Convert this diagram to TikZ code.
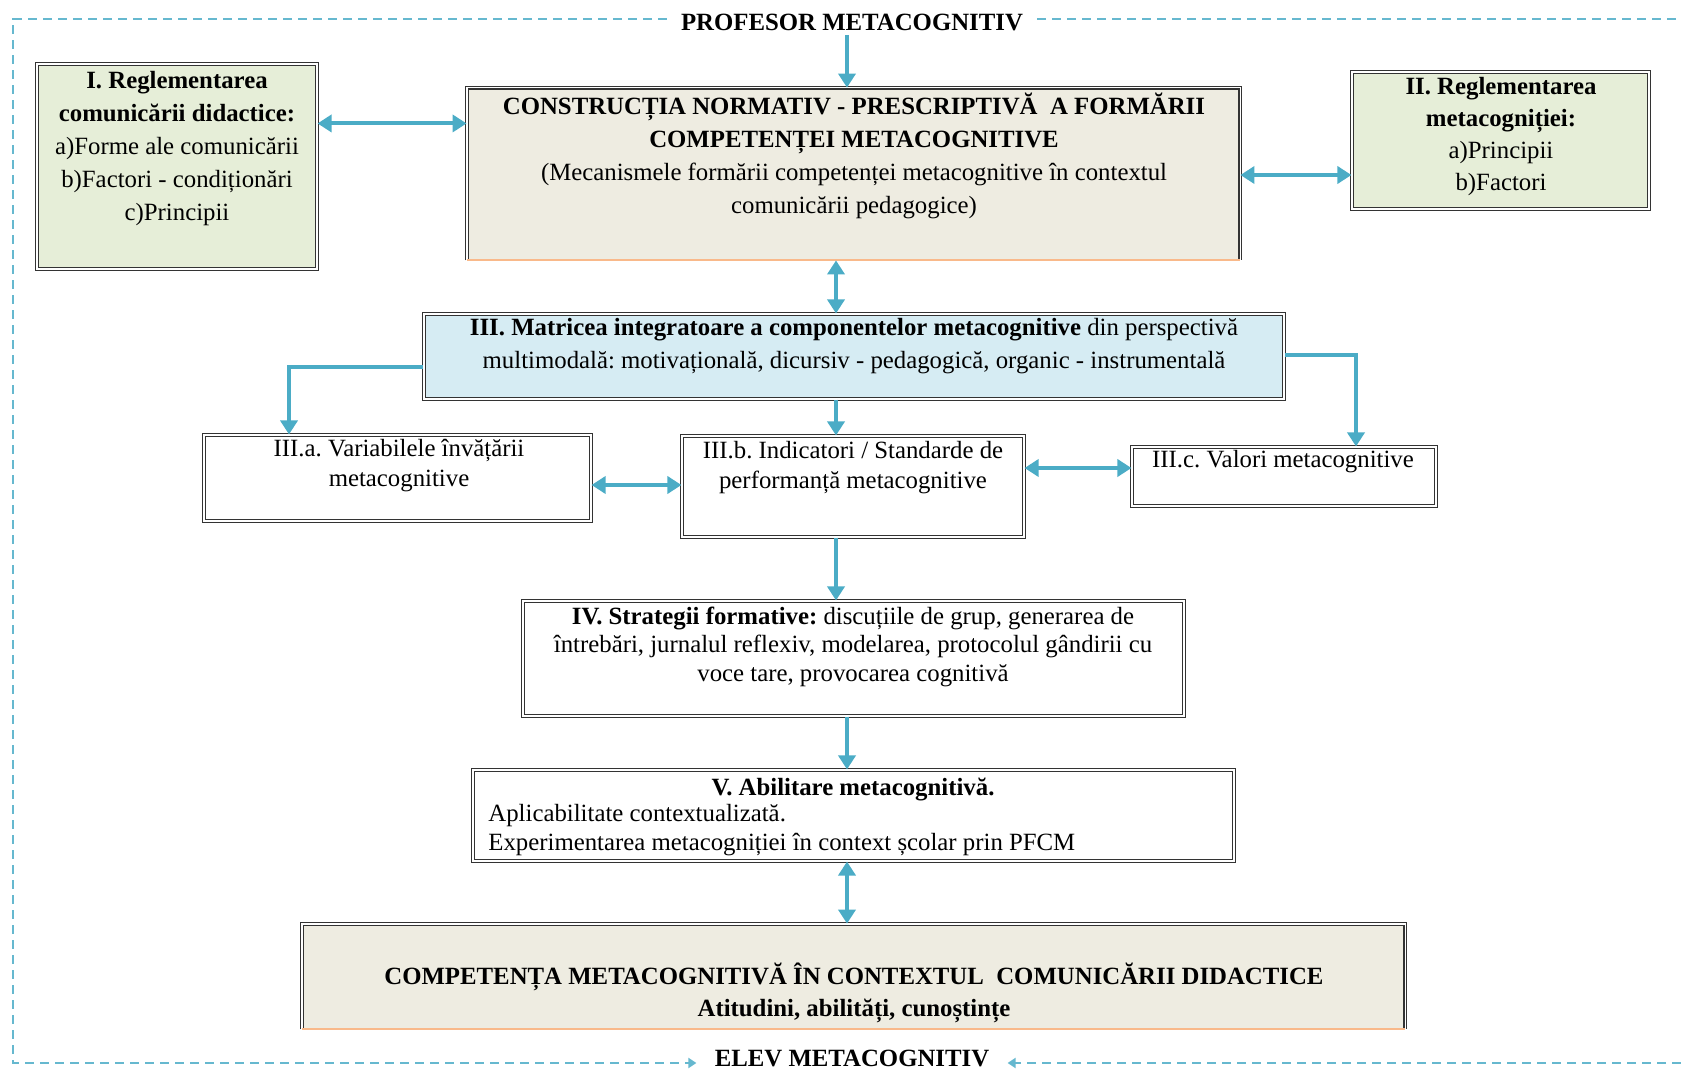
\documentclass[tikz,border=0pt]{standalone}
\usepackage{fontspec}
\setmainfont{Liberation Serif}
\usetikzlibrary{arrows.meta,calc}
\definecolor{arrblue}{HTML}{4BACC6}
\definecolor{greenfill}{HTML}{E6EED8}
\definecolor{beigefill}{HTML}{EEECE1}
\definecolor{bluefill}{HTML}{D6ECF3}
\definecolor{orangeline}{HTML}{F9B98A}
\begin{document}
\frenchspacing
\begin{tikzpicture}[x=0.5pt,y=-0.5pt, font=\fontsize{12.4}{14}\selectfont,
 box/.style={draw=black!80, line width=0.55pt, double=white, double distance=0.9pt, inner sep=0pt},
 boxline/.style={draw=black!80, line width=0.55pt, double=white, double distance=0.9pt},
 plainbox/.style={inner sep=0pt},
 txt/.style={align=center, inner sep=0pt},
 arr/.style={draw=arrblue, line width=2pt, -{Triangle[width=8.5pt,length=7pt]}},
 darr/.style={draw=arrblue, line width=2pt, {Triangle[width=8.5pt,length=7pt]}-{Triangle[width=8.5pt,length=7pt]}},
 framel/.style={draw=arrblue!85, line width=1pt, dash pattern=on 4.5pt off 3pt},
 framearr/.style={framel, -{Triangle[width=5pt,length=4pt]}},
]
\useasboundingbox (0,0) rectangle (1681,1070);

% boxes
\node[box, fill=greenfill, minimum width=140pt, minimum height=102.5pt] (bI) at (177,166.5) {};
\node[plainbox, fill=beigefill, minimum width=386.5pt, minimum height=86pt] (cons) at (853.5,174) {};
\draw[boxline] (cons.south west) -- (cons.north west) -- (cons.north east) -- (cons.south east);
\draw[orangeline, line width=1pt] (cons.south west) -- (cons.south east);
\node[box, fill=greenfill, minimum width=148.5pt, minimum height=68.5pt] (bII) at (1500.5,140.5) {};
\node[box, fill=bluefill, minimum width=430pt, minimum height=42.5pt] (b3) at (854,356.5) {};
\node[box, fill=white, minimum width=193.5pt, minimum height=43pt] (b3a) at (397.5,478) {};
\node[box, fill=white, minimum width=171pt, minimum height=50.5pt] (b3b) at (853,486.5) {};
\node[box, fill=white, minimum width=152pt, minimum height=29.5pt] (b3c) at (1284,476.5) {};
\node[box, fill=white, minimum width=330.5pt, minimum height=57.5pt] (b4) at (853.5,658.5) {};
\node[box, fill=white, minimum width=380.5pt, minimum height=45.5pt] (b5) at (853.5,815.5) {};
\node[plainbox, fill=beigefill, minimum width=551.5pt, minimum height=52.5pt] (fin) at (853.5,976.5) {};
\draw[boxline] (fin.south west) -- (fin.north west) -- (fin.north east) -- (fin.south east);
\draw[orangeline, line width=1pt] (fin.south west) -- (fin.south east);

% texts
\node[txt, font=\fontsize{12.4}{16.5}\selectfont] (tI) at (177,148.5)
 {\textbf{I. Reglementarea}\\ \textbf{comunicării didactice:}\\ a)Forme ale comunicării\\ b)Factori - condiționări\\ c)Principii};
\node[txt, font=\fontsize{12.4}{16.5}\selectfont] (tcons) at (854,156)
 {\textbf{CONSTRUCȚIA NORMATIV - PRESCRIPTIVĂ\ \ A FORMĂRII}\\ \textbf{COMPETENȚEI METACOGNITIVE}\\ (Mecanismele formării competenței metacognitive în contextul\\ comunicării pedagogice)};
\node[txt, font=\fontsize{12.4}{16}\selectfont] (tII) at (1501,137)
 {\textbf{II. Reglementarea}\\ \textbf{metacogniției:}\\ a)Principii\\ b)Factori};
\node[txt, font=\fontsize{12.4}{16.5}\selectfont] (t3) at (854,346.5)
 {\textbf{III. Matricea integratoare a componentelor metacognitive} din perspectivă\\ multimodală: motivațională, dicursiv - pedagogică, organic - instrumentală};
\node[txt, font=\fontsize{12.4}{15}\selectfont] (t3a) at (399,466) {III.a. Variabilele învățării\\ metacognitive};
\node[txt, font=\fontsize{12.4}{15}\selectfont] (t3b) at (853,468) {III.b. Indicatori / Standarde de\\ performanță metacognitive};
\node[txt] (t3c) at (1283,462) {III.c. Valori metacognitive};
\node[txt, font=\fontsize{12.4}{14.25}\selectfont] (t4) at (853,646.5)
 {\textbf{IV. Strategii formative:} discuțiile de grup, generarea de\\ întrebări, jurnalul reflexiv, modelarea, protocolul gândirii cu\\ voce tare, provocarea cognitivă};
\node[txt] (t5a) at (853,789) {\textbf{V. Abilitare metacognitivă.}};
\node[align=left, inner sep=0pt, anchor=west, font=\fontsize{12.4}{14.5}\selectfont] (t5b) at (488,830.5)
 {Aplicabilitate contextualizată.\\ Experimentarea metacogniției în context școlar prin PFCM};
\node[txt, font=\fontsize{12.4}{16}\selectfont\bfseries] (tfin) at (854,993)
 {COMPETENȚA METACOGNITIVĂ ÎN CONTEXTUL\ \ COMUNICĂRII DIDACTICE\\ Atitudini, abilități, cunoștințe};

\node[font=\fontsize{12.4}{14}\selectfont\bfseries, inner xsep=7pt, inner ysep=2pt] (prof) at (852,22) {PROFESOR METACOGNITIV};
\node[font=\fontsize{12.4}{14}\selectfont\bfseries, inner xsep=9pt, inner ysep=2pt] (elev) at (852,1058) {ELEV METACOGNITIV};

% frame
\coordinate (tl) at (13,19);
\coordinate (bl) at (13,1063);
\coordinate (tr) at (1681,19);
\coordinate (br) at (1681,1063);
\draw[framearr] (prof.west |- tl) -- (tl) -- (bl) -- (bl -| elev.west);
\draw[framel] (prof.east |- tr) -- (tr);
\draw[framearr] (br) -- (br -| elev.east);

% connectors
\draw[arr] (prof.south -| 847,0) -- (847,0 |- cons.north);
\draw[darr] ($(bI.north east)+(0,60)$) coordinate (a1) -- (a1 -| cons.west);
\draw[darr] ($(cons.east)+(0,1)$) coordinate (a2) -- (a2 -| bII.west);
\draw[darr] ($(cons.south)+(-17.5,0)$) coordinate (a3) -- (a3 |- b3.north);
\draw[arr] ($(b3.west)+(0,10.5)$) -| ($(b3a.north)+(-108.5,0)$);
\draw[arr] ($(b3.south)+(-18,0)$) coordinate (a4) -- (a4 |- b3b.north);
\draw[arr] ($(b3.east)+(0,-1.5)$) -| ($(b3c.north)+(72,0)$);
\draw[darr] ($(b3a.east)+(0,7)$) coordinate (a5) -- (a5 -| b3b.west);
\draw[darr] ($(b3c.west)+(0,-8.5)$) coordinate (a6) -- (a6 -| b3b.east);
\draw[arr] ($(b3b.south)+(-17,0)$) coordinate (a7) -- (a7 |- b4.north);
\draw[arr] ($(b4.south)+(-6.5,0)$) coordinate (a8) -- (a8 |- b5.north);
\draw[darr] ($(b5.south)+(-6.5,0)$) coordinate (a9) -- (a9 |- fin.north);
\end{tikzpicture}
\end{document}
